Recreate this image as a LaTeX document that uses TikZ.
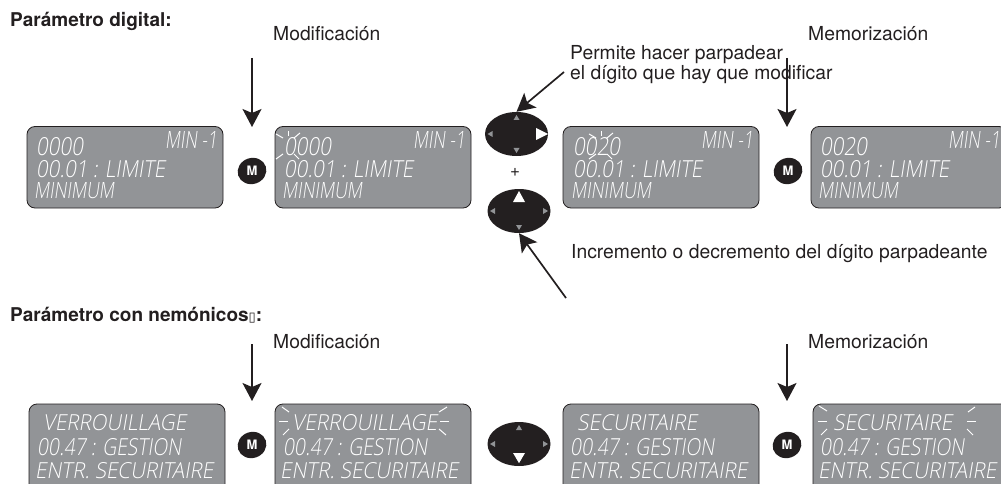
\documentclass[tikz,border=0pt]{standalone}
\usepackage{graphicx}
\usepackage{fontspec}
\setmainfont{TeX Gyre Heros}
\newfontfamily\lcd[FakeSlant=0.18]{Open Sans Light}
\newfontfamily\boxfont{DejaVu Sans}
\usetikzlibrary{arrows.meta,shapes.geometric}
\definecolor{lcdgrey}{RGB}{146,148,151}
\definecolor{inkk}{RGB}{35,31,32}
\tikzset{
 x=1pt,y=-1pt,
 lab/.style={anchor=base west,inner sep=0pt,font=\fontsize{19.3}{21}\selectfont,text=inkk},
 head/.style={anchor=base west,inner sep=0pt,font=\fontsize{19}{21}\bfseries\selectfont,text=inkk},
 arr/.style={draw=inkk,line width=1.7pt,-{Stealth[length=18pt,width=19pt,inset=4pt]}},
 panel/.style={draw=inkk,line width=0.8pt,fill=lcdgrey,rounded corners=8pt},
 lcdt/.style={anchor=base west,inner sep=0pt,text=white,font=\lcd\fontsize{22}{24}\selectfont},
 flash/.style={draw=white,line width=1pt},
 mbtn/.style={ellipse,fill=inkk,minimum width=29pt,minimum height=26pt,inner sep=0pt,rotate=18},
 pad/.style={ellipse,fill=inkk,minimum width=63pt,minimum height=44pt,inner sep=0pt}
}
\newcommand{\seg}[5]{\node[lcdt] at (#1,#2) {\resizebox{#3pt}{#4pt}{#5}};}
\newcommand{\digitpanel}[5]{%
 \draw[panel] (#1,126.5) rectangle (#1+196,208);
 \seg{#1+#2}{155}{47}{18}{#3}
 \seg{#1+#4}{177}{129}{17}{00.01 : LIMITE}
 \seg{#1+#4-2}{198}{80}{16}{MINIMUM}
 \seg{#1+#5}{148}{52}{17}{MIN -1}
}
\newcommand{\mnempanel}[7]{%
 \draw[panel] (#1,404) rectangle (#2,495);
 \seg{#3}{430}{#4}{16}{#5}
 \seg{#6}{455}{144}{17}{00.47 : GESTION}
 \seg{#7}{478}{178}{16}{ENTR. SECURITAIRE}
}
\newcommand{\burst}[2]{%
 \draw[flash] (#1,#2-15) -- (#1,#2-10);
 \draw[flash] (#1-12,#2-12) -- (#1-5,#2-8);
 \draw[flash] (#1+12,#2-13) -- (#1+6,#2-8);
 \draw[flash] (#1-12,#2+13) -- (#1-5,#2+8);
 \draw[flash] (#1+11,#2+13) -- (#1+6,#2+8);
}
\newcommand{\padtri}[2]{%
 \fill[lcdgrey] (#1,#2-19) -- (#1-3,#2-14) -- (#1+3,#2-14) -- cycle;
 \fill[lcdgrey] (#1,#2+19) -- (#1-3,#2+14) -- (#1+3,#2+14) -- cycle;
 \fill[lcdgrey] (#1-29,#2) -- (#1-24,#2-3) -- (#1-24,#2+3) -- cycle;
 \fill[lcdgrey] (#1+29,#2) -- (#1+24,#2-3) -- (#1+24,#2+3) -- cycle;
}
\begin{document}
\begin{tikzpicture}
\useasboundingbox (0,0) rectangle (1001,484);
\clip (0,0) rectangle (1001,484);
% headers
\node[head] (h1) at (10,27) {Parámetro digital:};
\node[head] (h2) at (10,321) {Parámetro con nemónicos{\boxfont\fontsize{13}{14}\selectfont ▯}:};
% labels
\node[lab] (m1) at (273,41) {Modificación};
\node[lab] (s1) at (808,41) {Memorización};
\node[lab] (m2) at (273,348) {Modificación};
\node[lab] (s2) at (808,348) {Memorización};
\node[lab] (p1) at (570,60) {Permite hacer parpadear};
\node[lab] (p2) at (570,80) {el dígito que hay que modificar};
\node[lab] (inc) at (571,258) {Incremento o decremento del dígito parpadeante};
\node[inner sep=0pt,font=\fontsize{17}{18}\selectfont,text=inkk] (plus) at (515,172) {+};
% panels row 1
\digitpanel{27}{9}{0000}{9}{138}
\digitpanel{275}{9}{0000}{9}{138}
\digitpanel{563}{10}{0020}{10}{138}
\digitpanel{811}{9}{0020}{9}{137}
% panels row 2
\mnempanel{29}{225}{43}{143}{VERROUILLAGE}{37}{35}
\mnempanel{275}{471}{292}{145}{VERROUILLAGE}{283}{280}
\mnempanel{563}{759}{577}{120}{SECURITAIRE}{570}{569}
\mnempanel{813}{1020}{833}{119}{SECURITAIRE}{820}{818}
% bursts
\burst{288}{146}
\burst{601}{146}
\begin{scope}[flash]
\draw (282,407)--(289,412); \draw (279,421)--(288,421); \draw (283,435)--(289,429);
\draw (447,407)--(439,412); \draw (440,421)--(449,421); \draw (439,429)--(446,435);
\draw (819,406)--(827,411); \draw (818,421)--(827,421); \draw (821,435)--(827,429);
\draw (975,407)--(968,412); \draw (967,421)--(976,421); \draw (967,429)--(973,435);
\end{scope}
% M buttons
\foreach \n/\x/\y in {a/252/171,b/788/171,c/252/445,d/787/445}{
 \node[mbtn] (M\n) at (\x,\y) {};
 \node[inner sep=0pt,text=white,font=\fontsize{13}{14}\bfseries\selectfont] at (\x,\y) {M};
}
% pads
\node[pad] (padA) at (516.5,134) {};
\node[pad] (padB) at (519,211) {};
\node[pad] (padC) at (519,444) {};
\padtri{516.5}{134}
\padtri{519}{211}
\padtri{519}{444}
\fill[white] (548,134) -- (536,128) -- (536,140) -- cycle;
\fill[white] (519,191) -- (513,202) -- (525,202) -- cycle;
\fill[white] (519,463) -- (513,453) -- (525,453) -- cycle;
% arrows
\coordinate (a1s) at (252,58); \coordinate (a1e) at (252,127);
\coordinate (a2s) at (787,58); \coordinate (a2e) at (787,127);
\coordinate (a3s) at (252,344); \coordinate (a3e) at (252,401);
\coordinate (a4s) at (787,344); \coordinate (a4e) at (787,401);
\coordinate (a5s) at (564,72); \coordinate (a6s) at (566,298);
\draw[arr] (a1s) -- (a1e);
\draw[arr] (a2s) -- (a2e);
\draw[arr] (a3s) -- (a3e);
\draw[arr] (a4s) -- (a4e);
\draw[arr] (a5s) -- (padA.north);
\draw[arr] (a6s) -- (padB.south);
\end{tikzpicture}
\end{document}
